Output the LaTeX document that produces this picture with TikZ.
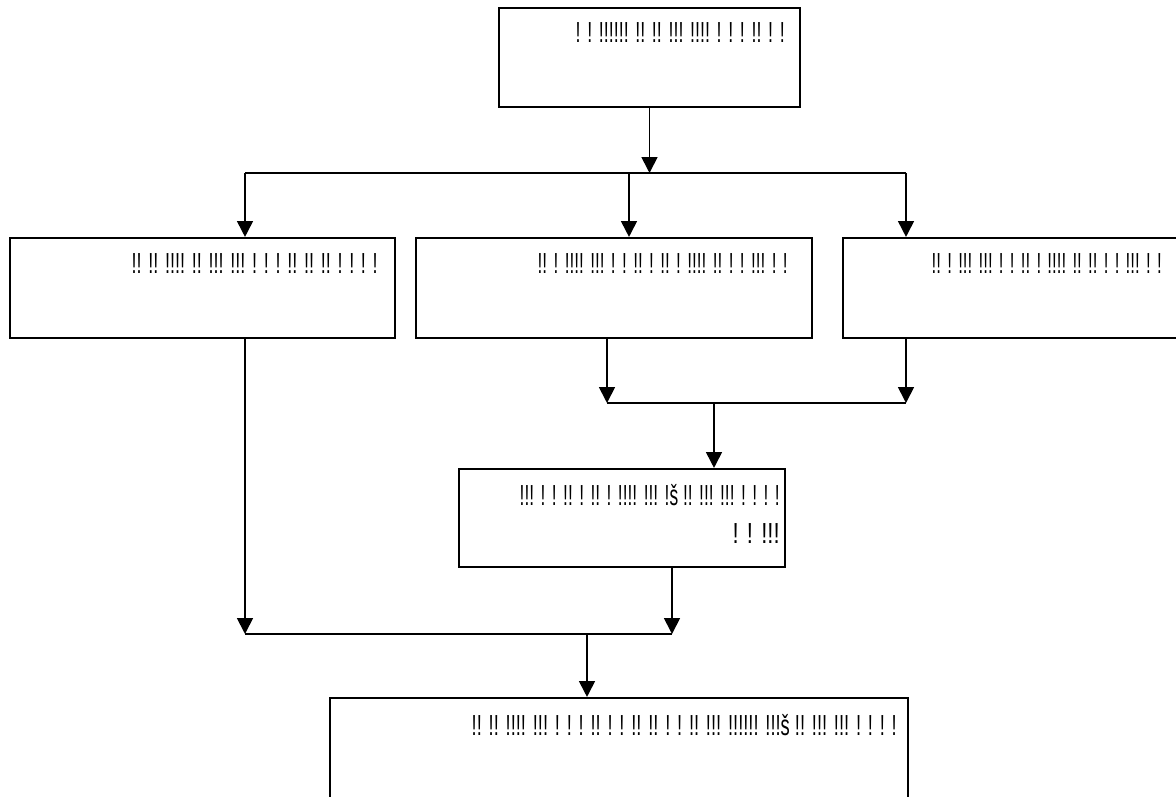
\documentclass[tikz,border=0pt]{standalone}
\usepackage{fontspec}
\usepackage{graphicx}
\setmainfont{Liberation Sans}
\usetikzlibrary{positioning, arrows.meta}

%% squeeze a label to the width it has in the picture
\newcommand{\fitw}[2]{\resizebox{#1}{\height}{#2}}

\begin{document}
\begin{tikzpicture}[
    x=0.02cm, y=-0.02cm, %% one unit is one pixel of the page
    box/.style={
        rectangle,
        draw=black,
        line width=1.2pt,
        fill=white,
        inner sep=0pt
    },
    boxtext/.style={
        inner sep=0pt,
        anchor=base east,
        font=\fontsize{16.5}{19}\selectfont
    },
    arrow/.style={
        ->,
        >={Triangle[length=9pt, width=9pt]},
        line width=1pt
    },
    bus/.style={
        line width=1pt
    }
]
\useasboundingbox (0,0) rectangle (1176,797);
\clip (0,0) rectangle (1176,797);

%% Top Node
\node[box, minimum width=6.02cm, minimum height=1.98cm] (top_box) at (649.5,57.5) {};

%% Second Row Nodes
\node[box, minimum width=7.7cm, minimum height=2cm] (left_box) at (202.5,288) {};
\node[box, minimum width=7.92cm, minimum height=2cm] (middle_box) at (614,288) {};
\node[box, minimum width=7.54cm, minimum height=2cm] (right_box) at (1031.5,288) {};

%% Joining Node
\node[box, minimum width=6.52cm, minimum height=1.96cm] (join_box) at (622,518) {};

%% Bottom Node
\node[box, minimum width=11.56cm, minimum height=3.24cm] (result_box) at (619,779) {};

%% Texts
\node[boxtext] (top_text) at (785,43) {\fitw{4.18cm}{! ! !!!!!! !! !! !!! !!!! ! ! ! !! ! !}};
\node[boxtext] (left_text) at (378,274) {\fitw{4.92cm}{!! !! !!!! !! !!! !!! ! ! ! !! !! !! ! ! ! !}};
\node[boxtext] (middle_text) at (788,274) {\fitw{5cm}{!! ! !!!! !!! ! ! !! ! !! ! !!!! !! ! ! !!! ! !}};
\node[boxtext] (right_text) at (1162,274) {\fitw{4.6cm}{!! ! !!! !!! ! ! !! ! !!!! !! !! ! ! !!! ! !}};
\node[boxtext] (join_text) at (780,505) {\fitw{5.2cm}{!!! ! ! !! ! !! ! !!!! !!! !š !! !!! !!! ! ! ! !}};
\node[boxtext] (join_text_b) at (780,543) {\fitw{0.94cm}{! ! !!!}};
\node[boxtext] (result_text) at (897,735) {\fitw{8.5cm}{!! !! !!!! !!! ! ! ! !! ! ! !! !! ! ! !! !!! !!!!!! !!!š !! !!! !!! ! ! ! !}};

%% Bus Points
\coordinate (bus_a_left) at (245,173);
\coordinate (bus_a_mid) at (629,173);
\coordinate (bus_a_right) at (906,173);
\coordinate (bus_b_left) at (607,403);
\coordinate (bus_b_mid) at (714,403);
\coordinate (bus_b_right) at (906,403);
\coordinate (bus_c_left) at (245,634);
\coordinate (bus_c_mid) at (587,634);
\coordinate (bus_c_right) at (672,634);

%% Top Split
\draw[arrow] (top_box.south) -- (top_box.south |- bus_a_mid);
\draw[bus] (bus_a_left) -- (bus_a_right);
\draw[arrow] (bus_a_left) -- (bus_a_left |- left_box.north);
\draw[arrow] (bus_a_mid) -- (bus_a_mid |- middle_box.north);
\draw[arrow] (bus_a_right) -- (bus_a_right |- right_box.north);

%% Middle Merge
\draw[arrow] (bus_b_left |- middle_box.south) -- (bus_b_left);
\draw[arrow] (bus_b_right |- right_box.south) -- (bus_b_right);
\draw[bus] (bus_b_left) -- (bus_b_right);
\draw[arrow] (bus_b_mid) -- (bus_b_mid |- join_box.north);

%% Bottom Merge
\draw[arrow] (bus_c_left |- left_box.south) -- (bus_c_left);
\draw[arrow] (bus_c_right |- join_box.south) -- (bus_c_right);
\draw[bus] (bus_c_left) -- (bus_c_right);
\draw[arrow] (bus_c_mid) -- (bus_c_mid |- result_box.north);

\end{tikzpicture}
\end{document}
